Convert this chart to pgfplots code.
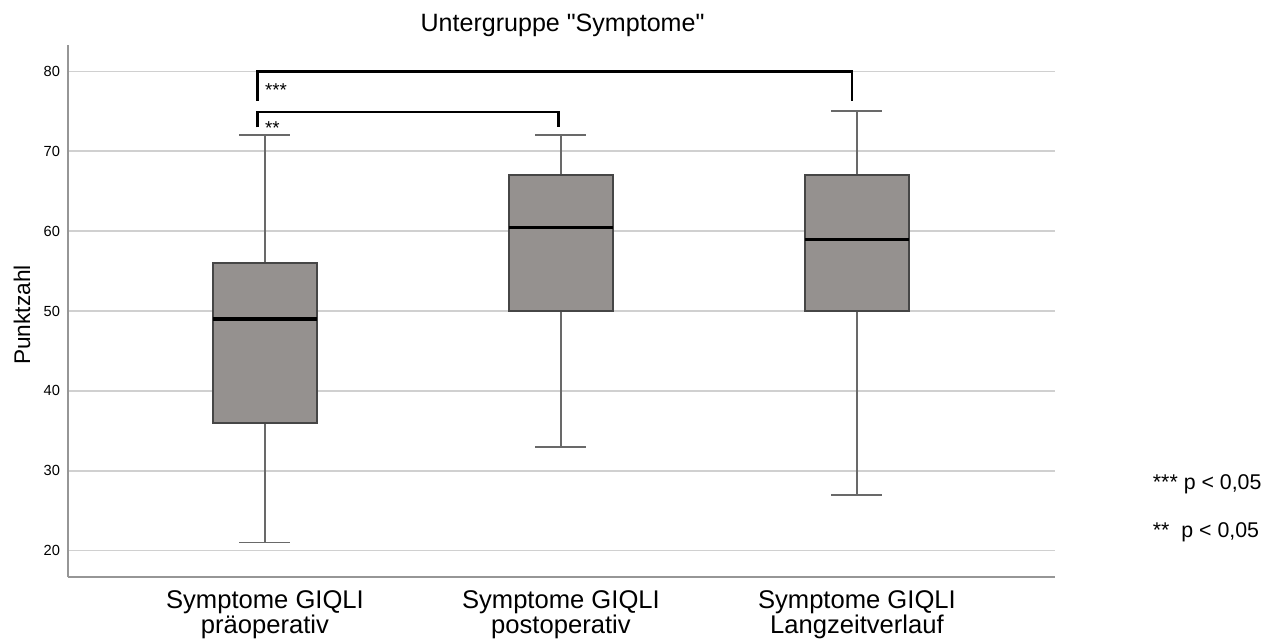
\documentclass[border=0pt]{standalone}
\usepackage{pgfplots}
\pgfplotsset{compat=1.18}
\usepackage{fontspec}
\setmainfont{Liberation Sans}[Ligatures=TeXOff]
\definecolor{boxfill}{RGB}{149,145,143}
\definecolor{boxedge}{RGB}{70,70,70}
\definecolor{whisk}{RGB}{105,105,105}
\definecolor{gridc}{RGB}{208,208,208}
\definecolor{axisc}{RGB}{150,150,150}
\begin{document}
\begin{tikzpicture}
\path[use as bounding box] (0,0) rectangle (958.5pt,480.75pt);
\begin{axis}[
  at={(51.2pt,47.8pt)}, anchor=south west,
  scale only axis, width=740pt, height=399.2pt,
  xmin=0.3355, xmax=3.669, ymin=16.67, ymax=83.3,
  axis lines*=left,
  axis line style={draw=axisc, line width=1.2pt},
  tick style={draw=none},
  xtick={1,2,3},
  xticklabels={Symptome GIQLI\\präoperativ, Symptome GIQLI\\postoperativ, Symptome GIQLI\\Langzeitverlauf},
  xticklabel style={align=center, anchor=north, inner sep=0pt, yshift=-9.5pt, font=\fontsize{19.2pt}{17.5pt}\selectfont},
  ytick={20,30,40,50,60,70,80},
  yticklabel style={anchor=east, inner sep=0pt, xshift=-6pt, font=\fontsize{11pt}{12pt}\selectfont},
  /pgf/number format/assume math mode=true,
  ymajorgrids, grid style={draw=gridc, line width=1.2pt},
  clip=false,
]
% whiskers: box 1 (21,36,49,56,72), box 2 (33,50,60.5,67,72), box 3 (27,50,59,67,75)
\addplot[whisk, line width=1.2pt] coordinates {(1,21) (1,36)};
\addplot[whisk, line width=1.2pt] coordinates {(1,56) (1,72)};
\addplot[whisk, line width=1.2pt] coordinates {(0.914,21) (1.086,21)};
\addplot[whisk, line width=1.2pt] coordinates {(0.914,72) (1.086,72)};
\addplot[whisk, line width=1.2pt] coordinates {(2,33) (2,50)};
\addplot[whisk, line width=1.2pt] coordinates {(2,67) (2,72)};
\addplot[whisk, line width=1.2pt] coordinates {(1.914,33) (2.086,33)};
\addplot[whisk, line width=1.2pt] coordinates {(1.914,72) (2.086,72)};
\addplot[whisk, line width=1.2pt] coordinates {(3,27) (3,50)};
\addplot[whisk, line width=1.2pt] coordinates {(3,67) (3,75)};
\addplot[whisk, line width=1.2pt] coordinates {(2.914,27) (3.086,27)};
\addplot[whisk, line width=1.2pt] coordinates {(2.914,75) (3.086,75)};
% boxes
\addplot[draw=boxedge, fill=boxfill, line width=1.1pt] coordinates {(0.8245,36) (1.1755,36) (1.1755,56) (0.8245,56)} -- cycle;
\addplot[draw=boxedge, fill=boxfill, line width=1.1pt] coordinates {(1.8245,50) (2.1755,50) (2.1755,67) (1.8245,67)} -- cycle;
\addplot[draw=boxedge, fill=boxfill, line width=1.1pt] coordinates {(2.8245,50) (3.1755,50) (3.1755,67) (2.8245,67)} -- cycle;
% medians
\addplot[black, line width=2.3pt] coordinates {(0.8245,49) (1.1755,49)};
\addplot[black, line width=2.3pt] coordinates {(1.8245,60.5) (2.1755,60.5)};
\addplot[black, line width=2.3pt] coordinates {(2.8245,59) (3.1755,59)};
% significance brackets
\draw[black, line width=1.8pt] (axis cs:0.975,76.3) -- (axis cs:0.975,80) -- (axis cs:2.983,80) -- (axis cs:2.983,76.3);
\draw[black, line width=1.8pt] (axis cs:0.975,73.0) -- (axis cs:0.975,74.9) -- (axis cs:1.992,74.9) -- (axis cs:1.992,73.0);
\node[anchor=base west, inner sep=0pt, font=\fontsize{14pt}{16pt}\selectfont] at (axis cs:1.0,76.86) {***};
\node[anchor=base west, inner sep=0pt, font=\fontsize{14pt}{16pt}\selectfont] at (axis cs:1.0,72.15) {**};
\end{axis}
\node[anchor=base, inner sep=0pt, font=\fontsize{18.8pt}{21pt}\selectfont] at (421.9pt,457pt) {Untergruppe "Symptome"};
\node[rotate=90, anchor=center, inner sep=0pt, font=\fontsize{17pt}{19pt}\selectfont] at (16.5pt,244.5pt) {Punktzahl};
\node[anchor=base west, inner sep=0pt, font=\fontsize{16pt}{18pt}\selectfont] at (864.5pt,113.25pt) {*** p < 0,05};
\node[anchor=base west, inner sep=0pt, font=\fontsize{16pt}{18pt}\selectfont] at (864.5pt,77.8pt) {**~~p < 0,05};
\end{tikzpicture}
\end{document}
